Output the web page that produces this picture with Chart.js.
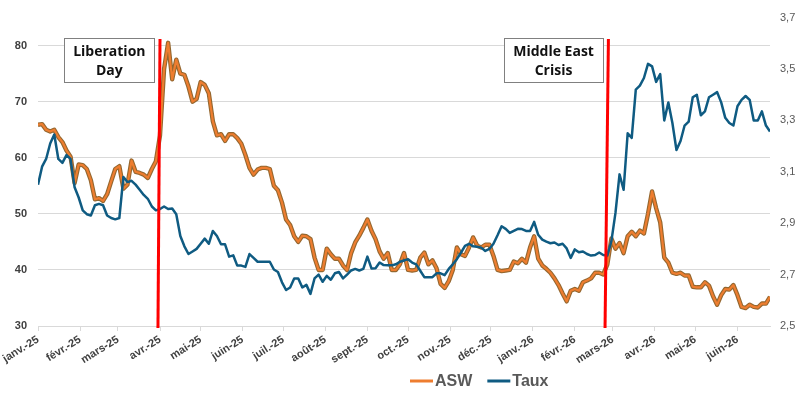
<!DOCTYPE html>
<html>
<head>
<meta charset="utf-8">
<script src="https://cdn.jsdelivr.net/npm/chart.js@4.4.1/dist/chart.umd.min.js"></script>
<style>
    html, body { margin: 0; padding: 0; background: #fff; }
</style>
</head>
<body>
<canvas id="myChart" width="800" height="400"></canvas>
<script>
// days since 1 Jan 2025
let days = [
    0, 3, 6, 9, 12, 15, 18, 21, 24, 27,
    30, 33, 36, 39, 42, 45, 48, 51, 54, 57,
    60, 63, 66, 69, 72, 75, 78, 81, 84, 87,
    90, 93, 96, 99, 102, 105, 108, 111, 114, 117,
    120, 123, 126, 129, 132, 135, 138, 141, 144, 147,
    150, 153, 156, 159, 162, 165, 168, 171, 174, 177,
    180, 183, 186, 189, 192, 195, 198, 201, 204, 207,
    210, 213, 216, 219, 222, 225, 228, 231, 234, 237,
    240, 243, 246, 249, 252, 255, 258, 261, 264, 267,
    270, 273, 276, 279, 282, 285, 288, 291, 294, 297,
    300, 303, 306, 309, 312, 315, 318, 321, 324, 327,
    330, 333, 336, 339, 342, 345, 348, 351, 354, 357,
    360, 363, 366, 369, 372, 375, 378, 381, 384, 387,
    390, 393, 396, 399, 402, 405, 408, 411, 414, 417,
    420, 423, 426, 429, 432, 435, 438, 441, 444, 447,
    450, 453, 456, 459, 462, 465, 468, 471, 474, 477,
    480, 483, 486, 489, 492, 495, 498, 501, 504, 507,
    510, 513, 516, 519, 522, 525, 528, 531, 534, 537,
    540,
];

let asw = [
    65.9, 66, 65, 64.7, 65, 63.7, 62.8, 61.3, 60.2, 55.5,
    58.8, 58.7, 58, 56, 52.6, 52.8, 52.3, 53.5, 55.8, 58,
    58.5, 54.5, 55.2, 59.5, 57.5, 57.3, 57, 56.4, 58, 59.4,
    64, 75.8, 80.5, 74, 77.5, 75, 74.8, 72.7, 70, 70.5,
    73.5, 73, 71.5, 66.5, 64, 64.2, 63, 64.2, 64.2, 63.5,
    62.5, 60.5, 58.2, 57, 57.9, 58.2, 58.2, 58, 55, 54.2,
    52, 49, 48, 46, 45, 46.1, 46, 45.5, 42.2, 40,
    40, 43.8, 42.8, 42, 42, 40.8, 40, 43, 44.9, 46.1,
    47.5, 49, 47, 45.5, 43.3, 42, 43, 40, 40, 41,
    43, 40, 39.9, 40, 42.2, 43.1, 41, 41.7, 40.3, 37.5,
    36.8, 38, 40, 44, 42.8, 42.5, 44, 45.8, 44.3, 44,
    44.5, 44.5, 42.5, 40, 39.8, 39.9, 40, 41.5, 41.2, 42,
    41.3, 44, 46, 42, 40.8, 40.2, 39.5, 38.5, 37.3, 35.8,
    34.4, 36.3, 36.6, 36.3, 37.8, 38.1, 38.5, 39.5, 39.5, 39.2,
    41, 45.6, 43.8, 44.8, 43, 46, 46.8, 46, 47, 46.5,
    50, 54, 51, 48.5, 42.2, 41.3, 39.5, 39.3, 39.5, 39,
    39, 37, 36.9, 36.9, 37.8, 37.2, 35.3, 33.8, 35.5, 36.6,
    36.5, 37.3, 35.5, 33.4, 33.2, 33.8, 33.4, 33.3, 34, 34,
    35.2,
];

let taux = [
    3.05, 3.12, 3.15, 3.21, 3.245, 3.15, 3.135, 3.165, 3.15, 3.04,
    3.0, 2.95, 2.935, 2.93, 2.97, 2.975, 2.97, 2.93, 2.92, 2.915,
    2.92, 3.08, 3.06, 3.065, 3.05, 3.03, 3.01, 2.995, 2.965, 2.95,
    2.955, 2.965, 2.955, 2.957, 2.935, 2.85, 2.81, 2.78, 2.79, 2.8,
    2.82, 2.84, 2.82, 2.87, 2.85, 2.818, 2.818, 2.77, 2.775, 2.735,
    2.735, 2.73, 2.78, 2.765, 2.75, 2.75, 2.75, 2.75, 2.72, 2.71,
    2.67, 2.64, 2.65, 2.685, 2.685, 2.65, 2.66, 2.625, 2.685, 2.7,
    2.672, 2.695, 2.68, 2.705, 2.71, 2.685, 2.7, 2.716, 2.722, 2.716,
    2.722, 2.77, 2.724, 2.725, 2.747, 2.737, 2.736, 2.736, 2.74, 2.75,
    2.755, 2.76, 2.747, 2.74, 2.715, 2.69, 2.69, 2.69, 2.705, 2.705,
    2.698, 2.722, 2.74, 2.76, 2.785, 2.812, 2.82, 2.81, 2.808, 2.805,
    2.792, 2.8, 2.82, 2.853, 2.888, 2.878, 2.862, 2.87, 2.878, 2.877,
    2.87, 2.87, 2.905, 2.855, 2.836, 2.828, 2.822, 2.825, 2.815, 2.82,
    2.802, 2.765, 2.798, 2.787, 2.79, 2.78, 2.774, 2.776, 2.786, 2.776,
    2.774, 2.83, 2.94, 3.09, 3.03, 3.25, 3.232, 3.42, 3.435, 3.465,
    3.52, 3.51, 3.45, 3.48, 3.3, 3.37, 3.29, 3.185, 3.22, 3.28,
    3.295, 3.39, 3.4, 3.32, 3.335, 3.39, 3.4, 3.41, 3.37, 3.31,
    3.29, 3.28, 3.355, 3.38, 3.395, 3.38, 3.3, 3.3, 3.335, 3.28,
    3.257,
];

let monthDays = [0, 31, 59, 90, 120, 151, 181, 212, 243, 273, 304, 334, 365, 396, 424, 455, 485, 516];
let monthLabels = [
    "janv.-25", "févr.-25", "mars-25", "avr.-25", "mai-25", "juin-25", "juil.-25", "août-25", "sept.-25",
    "oct.-25", "nov.-25", "déc.-25", "janv.-26", "févr.-26", "mars-26", "avr.-26", "mai-26", "juin-26",
];

// event markers: text, day at top of the red bar, day at its foot
let eventNames = [["Liberation", "Day"], ["Middle East", "Crisis"]];
let eventTop = [90, 420.8];
let eventFoot = [88.5, 418.3];

const FONT = "'Liberation Sans', Arial, sans-serif";
const ORANGE = "#ee7d2f";
const BLUE = "#0f5b82";

let aswPoints = days.map((d, i) => ({ x: d, y: asw[i] }));
let tauxPoints = days.map((d, i) => ({ x: d, y: taux[i] }));

const eventPlugin = {
    id: "events",
    afterDatasetsDraw(chart) {
        let ctx = chart.ctx;
        let xs = chart.scales.x;
        let ys = chart.scales.y;
        let area = chart.chartArea;
        ctx.save();
        eventNames.forEach((lines, i) => {
            let topX = xs.getPixelForValue(eventTop[i]);
            let footX = xs.getPixelForValue(eventFoot[i]);
            ctx.strokeStyle = "#ff0000";
            ctx.lineWidth = 3;
            ctx.beginPath();
            ctx.moveTo(topX, ys.getPixelForValue(81.2));
            ctx.lineTo(footX, area.bottom + 2);
            ctx.stroke();

            ctx.font = "bold 14px 'Open Sans', sans-serif";
            let w = Math.max(...lines.map((t) => ctx.measureText(t).width)) + 18;
            let h = 44;
            let right = topX - 5.5;
            let top = area.top + 20;
            ctx.fillStyle = "#ffffff";
            ctx.fillRect(right - w, top, w, h);
            ctx.strokeStyle = "#808080";
            ctx.lineWidth = 1;
            ctx.strokeRect(Math.round(right - w) + 0.5, Math.round(top) + 0.5, Math.round(w), h);
            ctx.fillStyle = "#111111";
            ctx.textAlign = "center";
            ctx.textBaseline = "middle";
            lines.forEach((t, j) => {
                ctx.fillText(t, right - w / 2, top + 14 + j * 19);
            });
        });
        ctx.restore();
    },
    afterDraw(chart) {
        // legend
        let ctx = chart.ctx;
        ctx.save();
        ctx.font = "bold 16px " + FONT;
        ctx.textBaseline = "middle";
        ctx.textAlign = "left";
        let items = [
            { label: "ASW", color: ORANGE },
            { label: "Taux", color: BLUE },
        ];
        let x = 410;
        let y = 381;
        items.forEach((it) => {
            ctx.strokeStyle = it.color;
            ctx.lineWidth = 3;
            ctx.beginPath();
            ctx.moveTo(x, y);
            ctx.lineTo(x + 23, y);
            ctx.stroke();
            ctx.fillStyle = "#595959";
            ctx.fillText(it.label, x + 25, y + 1);
            x += 25 + ctx.measureText(it.label).width + 15;
        });
        ctx.restore();
    },
};

const ctx = document.getElementById("myChart");
new Chart(ctx, {
    type: "line",
    data: {
        datasets: [
            {
                label: "Taux",
                data: tauxPoints,
                yAxisID: "y1",
                borderColor: BLUE,
                borderWidth: 2.5,
                pointRadius: 0,
                tension: 0,
                borderJoinStyle: "round",
                order: 0,
            },
            {
                label: "ASW",
                data: aswPoints,
                yAxisID: "y",
                borderColor: ORANGE,
                borderWidth: 2.2,
                pointRadius: 0,
                tension: 0,
                borderJoinStyle: "round",
                order: 1,
            },
            {
                label: "",
                data: aswPoints,
                yAxisID: "y",
                borderColor: "#94672f",
                borderWidth: 4.4,
                pointRadius: 0,
                tension: 0,
                borderJoinStyle: "round",
                order: 2,
            },
        ],
    },
    options: {
        responsive: false,
        animation: false,
        layout: { padding: { top: 15, left: 0, right: 0, bottom: 0 } },
        plugins: {
            legend: { display: false },
            tooltip: { enabled: false },
        },
        scales: {
            x: {
                type: "linear",
                min: 0,
                max: 540,
                afterBuildTicks: (scale) => {
                    scale.ticks = monthDays.map((v) => ({ value: v }));
                },
                afterFit: (scale) => {
                    scale.height = 74;
                },
                grid: {
                    drawOnChartArea: false,
                    drawTicks: true,
                    tickLength: 5,
                    color: "#d9d9d9",
                },
                border: { display: true, color: "#d9d9d9" },
                ticks: {
                    autoSkip: false,
                    minRotation: 32,
                    maxRotation: 32,
                    padding: 2,
                    color: "#404040",
                    font: { family: FONT, size: 11, weight: "bold" },
                    callback: (v) => monthLabels[monthDays.indexOf(v)],
                },
            },
            y: {
                position: "left",
                min: 30,
                max: 85,
                afterFit: (scale) => {
                    scale.width = 38;
                },
                grid: { color: "#d9d9d9", drawTicks: false },
                border: { display: false },
                ticks: {
                    stepSize: 10,
                    includeBounds: false,
                    padding: 11,
                    color: "#404040",
                    font: { family: FONT, size: 11, weight: "bold" },
                },
            },
            y1: {
                position: "right",
                min: 2.5,
                max: 3.7,
                afterFit: (scale) => {
                    scale.width = 30;
                },
                grid: { display: false, drawTicks: false },
                border: { display: false },
                ticks: {
                    stepSize: 0.2,
                    padding: 10,
                    color: "#595959",
                    font: { family: FONT, size: 11 },
                    callback: (v) => v.toFixed(1).replace(".", ","),
                },
            },
        },
    },
    plugins: [eventPlugin],
});
</script>
</body>
</html>
